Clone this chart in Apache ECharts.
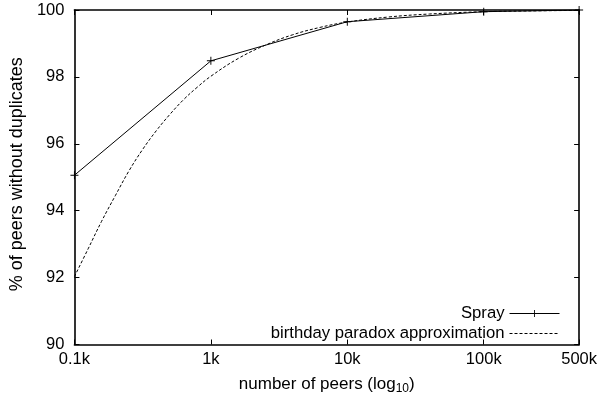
<!DOCTYPE html>
<html>
<head>
<meta charset="utf-8">
<script src="https://cdn.jsdelivr.net/npm/echarts@6/dist/echarts.min.js"></script>
<style>
html,body{margin:0;padding:0;background:#fff;}
#chart{width:600px;height:401px;}
</style>
</head>
<body>
<div id="chart"></div>
<script>
// Spray measurements: number of peers vs % of peers without duplicates
const sprayPeers = [100, 1000, 10000, 100000, 500000];
const sprayValues = [95.06, 98.48, 99.65, 99.95, 100.0];

// Birthday paradox approximation
const bdayPeers = [100, 126, 158, 200, 251, 316, 398, 501, 631, 794, 1000, 1585, 2512, 3981, 6310, 10000, 20000, 40000, 100000, 200000, 500000];
const bdayValues = [92.03, 92.86, 93.68, 94.46, 95.19, 95.83, 96.39, 96.88, 97.32, 97.69, 98.02, 98.55, 98.95, 99.26, 99.48, 99.64, 99.79, 99.88, 99.95, 99.97, 99.99];

const yTicks = [90, 92, 94, 96, 98, 100];
const seriesNames = ['Spray', 'birthday paradox approximation'];

const FONT = '"Liberation Sans", Arial, Helvetica, sans-serif';
const plusPath = 'path://M0,4.4H10V5.6H0Z M4.4,0H5.6V10H4.4Z';

const chart = echarts.init(document.getElementById('chart'), null, {renderer: 'canvas'});

const axisLine = {show: true, lineStyle: {color: '#000', width: 1.6}};
const tickIn = {show: true, inside: true, length: 5, lineStyle: {color: '#000', width: 1}};

chart.setOption({
  animation: false,
  backgroundColor: '#fff',
  textStyle: {fontFamily: FONT, color: '#000'},
  grid: {left: 68, right: 19.5, top: 10, bottom: 56.5, containLabel: false},
  legend: {
    data: [
      {name: seriesNames[0], lineStyle: {width: 1}},
      {name: seriesNames[1], itemStyle: {opacity: 0}, lineStyle: {width: 1, type: [3, 2]}}
    ],
    orient: 'vertical',
    right: 40,
    top: 305,
    padding: 0,
    align: 'right',
    itemWidth: 50,
    itemHeight: 9,
    itemGap: 3,
    lineStyle: {width: 1},
    textStyle: {fontFamily: FONT, fontSize: 16.7, color: '#000', lineHeight: 15},
    inactiveColor: '#000'
  },
  xAxis: [{
    type: 'log',
    logBase: 10,
    min: 100,
    max: 500000,
    position: 'bottom',
    name: '{a|number of peers (log}{s|10}{a|)}',
    nameLocation: 'middle',
    nameGap: 29,
    nameTextStyle: {
      rich: {
        a: {fontFamily: FONT, fontSize: 17, color: '#000'},
        s: {fontFamily: FONT, fontSize: 12, color: '#000', padding: [9, 0, 0, 0]}
      }
    },
    axisLine: axisLine,
    axisTick: tickIn,
    minorTick: {show: false},
    splitLine: {show: false},
    axisLabel: {
      margin: 6,
      fontSize: 16.5,
      fontFamily: FONT,
      color: '#000',
      showMinLabel: true,
      showMaxLabel: true,
      formatter: function (v) { return (v / 1000) + 'k'; }
    }
  }, {
    type: 'log',
    logBase: 10,
    min: 100,
    max: 500000,
    position: 'top',
    axisLine: axisLine,
    axisTick: tickIn,
    axisLabel: {show: false},
    splitLine: {show: false}
  }],
  yAxis: [{
    type: 'value',
    min: yTicks[0],
    max: yTicks[yTicks.length - 1],
    interval: 2,
    position: 'left',
    name: '% of peers without duplicates',
    nameLocation: 'middle',
    nameGap: 40,
    nameTextStyle: {fontFamily: FONT, fontSize: 18, color: '#000', padding: [0, 0, 0, 6]},
    axisLine: axisLine,
    axisTick: tickIn,
    splitLine: {show: false},
    axisLabel: {margin: 10, fontSize: 16.5, fontFamily: FONT, color: '#000'}
  }, {
    type: 'value',
    min: yTicks[0],
    max: yTicks[yTicks.length - 1],
    interval: 2,
    position: 'right',
    axisLine: axisLine,
    axisTick: tickIn,
    splitLine: {show: false},
    axisLabel: {show: false}
  }],
  series: [{
    name: seriesNames[0],
    type: 'line',
    xAxisIndex: 0,
    yAxisIndex: 0,
    data: sprayPeers.map((p, i) => [p, sprayValues[i]]),
    symbol: plusPath,
    symbolSize: 8,
    showSymbol: true,
    itemStyle: {color: '#000'},
    lineStyle: {color: '#000', width: 1},
    z: 3
  }, {
    name: seriesNames[1],
    type: 'line',
    xAxisIndex: 0,
    yAxisIndex: 0,
    data: bdayPeers.map((p, i) => [p, bdayValues[i]]),
    symbol: 'none',
    smooth: 0.4,
    itemStyle: {color: '#000'},
    lineStyle: {color: '#000', width: 1, type: [3, 2]},
    z: 2
  }]
});
</script>
</body>
</html>
